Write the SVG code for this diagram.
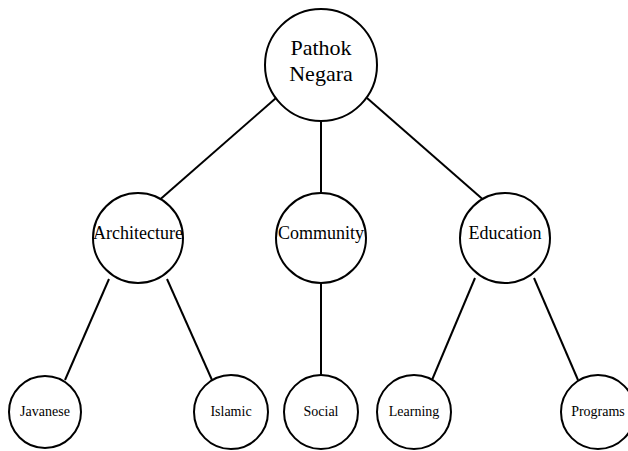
<svg xmlns="http://www.w3.org/2000/svg" width="628" height="451" viewBox="0 0 628 451">
<style>
.n{fill:#fff;stroke:#000;stroke-width:2}
.e{stroke:#000;stroke-width:2;fill:none}
text{font-family:"Liberation Serif","Times New Roman",serif;fill:#000;text-anchor:middle;dominant-baseline:central}
.t1{font-size:22px}
.t2{font-size:18px}
.t3{font-size:14px}
</style>
<rect width="628" height="451" fill="#fff"/>
<g id="connectors">
<line class="e" x1="276" y1="98" x2="156" y2="203"/>
<line class="e" x1="321" y1="122" x2="321" y2="194"/>
<line class="e" x1="367" y1="98" x2="487" y2="203"/>
<line class="e" x1="109" y1="279" x2="65" y2="380"/>
<line class="e" x1="167" y1="279" x2="212" y2="380"/>
<line class="e" x1="321" y1="284" x2="321" y2="376"/>
<line class="e" x1="475" y1="278" x2="432" y2="380"/>
<line class="e" x1="534" y1="278" x2="578" y2="380"/>
</g>
<g id="root"><circle class="n" cx="321" cy="65" r="56"/><text class="t1" x="321" y="47">Pathok</text><text class="t1" x="321" y="73">Negara</text></g>
<g id="architecture"><circle class="n" cx="138" cy="238" r="45"/><text class="t2" x="138" y="233">Architecture</text></g>
<g id="community"><circle class="n" cx="321" cy="238" r="45"/><text class="t2" x="321" y="233">Community</text></g>
<g id="education"><circle class="n" cx="505" cy="238" r="45"/><text class="t2" x="505" y="233">Education</text></g>
<g id="javanese"><circle class="n" cx="45" cy="412" r="36"/><text class="t3" x="45" y="411">Javanese</text></g>
<g id="islamic"><circle class="n" cx="231" cy="412" r="37"/><text class="t3" x="231" y="411">Islamic</text></g>
<g id="social"><circle class="n" cx="321" cy="412" r="37"/><text class="t3" x="321" y="411">Social</text></g>
<g id="learning"><circle class="n" cx="414" cy="412" r="37"/><text class="t3" x="414" y="411">Learning</text></g>
<g id="programs"><circle class="n" cx="598" cy="412" r="37"/><text class="t3" x="598" y="411">Programs</text></g>
</svg>
